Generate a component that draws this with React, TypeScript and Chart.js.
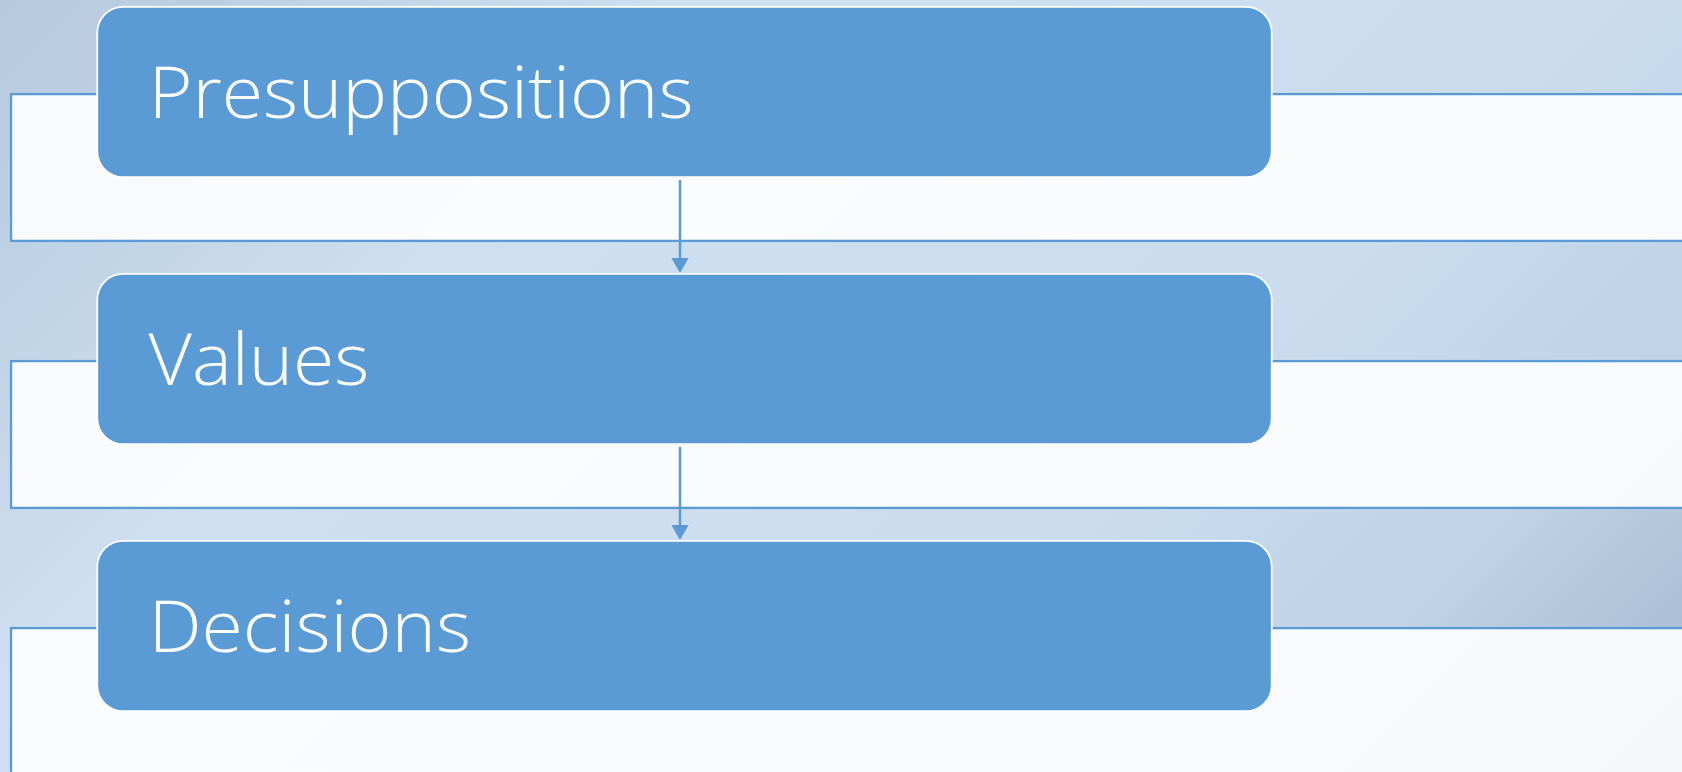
import React, { useEffect, useRef } from "react";
import { Chart, registerables } from "chart.js";

Chart.register(...registerables);

// ---- data ----
const steps: string[] = ["Presuppositions", "Values", "Decisions"];

// ---- layout / style constants ----
const W = 1682;
const H = 772;
const ROW_PITCH = 267;
const FIRST_TOP = 6;
const CARD_H = 172;
const CARD_LEFT = 96.5;
const CARD_RIGHT = 1272.5;
const PANEL_LEFT = 10;
const PANEL_RIGHT = 1720;
const PANEL_OFFSET = 87;
const PANEL_H = 149;
const ARROW_X = 680;
const ARROW_R = 10;
const ACCENT = "#5b9bd5";
const FONT_FAMILY = "'Open Sans', 'Noto Sans', sans-serif";
const FONT_SIZE = 72;
const FIRST_LABEL_WIDTH = 545;
const TEXT_INSET = 52;

const cardCenters = steps.map((_, i) => FIRST_TOP + i * ROW_PITCH + CARD_H / 2);
const panelCenters = steps.map((_, i) => FIRST_TOP + i * ROW_PITCH + PANEL_OFFSET + PANEL_H / 2);

const backgroundPlugin = {
  id: "bgGradient",
  beforeDraw(chart: any) {
    const { ctx, width, height } = chart;
    const d = (width + height) / 2;
    const g = ctx.createLinearGradient(0, 0, d, d);
    g.addColorStop(0, "#b6c9dd");
    g.addColorStop(0.28, "#cddff0");
    g.addColorStop(0.66, "#cadcee");
    g.addColorStop(0.83, "#bfd2e6");
    g.addColorStop(0.92, "#aec3d9");
    g.addColorStop(1, "#a3b8cf");
    ctx.save();
    ctx.fillStyle = g;
    ctx.fillRect(0, 0, width, height);
    ctx.restore();
  },
};

const labelPlugin = {
  id: "cardLabels",
  afterDatasetsDraw(chart: any) {
    const meta = chart.getDatasetMeta(0);
    const { ctx } = chart;
    ctx.save();
    ctx.fillStyle = "#ffffff";
    ctx.font = `300 ${FONT_SIZE}px ${FONT_FAMILY}`;
    ctx.textAlign = "left";
    ctx.textBaseline = "alphabetic";
    const m = ctx.measureText("H");
    const cap = m.actualBoundingBoxAscent || FONT_SIZE * 0.714;
    const scaleX = FIRST_LABEL_WIDTH / ctx.measureText(steps[0]).width;
    meta.data.forEach((el: any, i: number) => {
      const left = Math.min(el.x, el.base);
      ctx.save();
      ctx.translate(left + TEXT_INSET, el.y + cap / 2);
      ctx.scale(scaleX, 1);
      ctx.fillText(steps[i], 0, 0);
      ctx.restore();
    });
    ctx.restore();
  },
};

export default function App() {
  const ref = useRef<HTMLCanvasElement | null>(null);

  useEffect(() => {
    document.body.style.margin = "0";
    if (!ref.current) return;

    const arrowLines = steps.slice(0, -1).map((_, i) => ({
      type: "line" as const,
      data: [
        { x: ARROW_X, y: cardCenters[i] + CARD_H / 2 + 2 },
        { x: ARROW_X, y: cardCenters[i + 1] - CARD_H / 2 - ARROW_R },
      ],
      borderColor: ACCENT,
      borderWidth: 2.5,
      pointRadius: 0,
      order: 2,
    }));

    const arrowHeads = {
      type: "scatter" as const,
      data: steps.slice(1).map((_, i) => ({
        x: ARROW_X,
        y: cardCenters[i + 1] - CARD_H / 2 - ARROW_R,
      })),
      pointStyle: "triangle",
      pointRotation: 180,
      pointRadius: ARROW_R,
      pointBackgroundColor: ACCENT,
      pointBorderColor: ACCENT,
      pointBorderWidth: 0,
      order: 2,
    };

    const chart = new Chart(ref.current, {
      type: "bar",
      data: {
        datasets: [
          {
            type: "bar",
            data: steps.map((_, i) => ({ x: [CARD_LEFT, CARD_RIGHT], y: cardCenters[i] })),
            backgroundColor: ACCENT,
            borderColor: "#ffffff",
            borderWidth: 2,
            borderRadius: 27,
            borderSkipped: false,
            barThickness: CARD_H,
            grouped: false,
            order: 1,
          } as any,
          ...(arrowLines as any[]),
          arrowHeads as any,
          {
            type: "bar",
            data: steps.map((_, i) => ({ x: [PANEL_LEFT, PANEL_RIGHT], y: panelCenters[i] })),
            backgroundColor: "rgba(255,255,255,0.89)",
            borderColor: ACCENT,
            borderWidth: 2.5,
            borderRadius: 0,
            borderSkipped: false,
            barThickness: PANEL_H,
            grouped: false,
            order: 3,
          } as any,
        ],
      },
      options: {
        indexAxis: "y",
        animation: false,
        responsive: false,
        events: [],
        layout: { padding: 0, autoPadding: false },
        scales: {
          x: { type: "linear", min: 0, max: W, display: false, offset: false, grace: 0 },
          y: { type: "linear", min: 0, max: H, reverse: true, display: false, offset: false, grace: 0 },
        },
        plugins: {
          legend: { display: false },
          tooltip: { enabled: false },
        },
      },
      plugins: [backgroundPlugin, labelPlugin],
    });

    return () => chart.destroy();
  }, []);

  return (
    <div style={{ width: W, height: H, overflow: "hidden" }}>
      <canvas ref={ref} width={W} height={H} style={{ display: "block" }} />
    </div>
  );
}
